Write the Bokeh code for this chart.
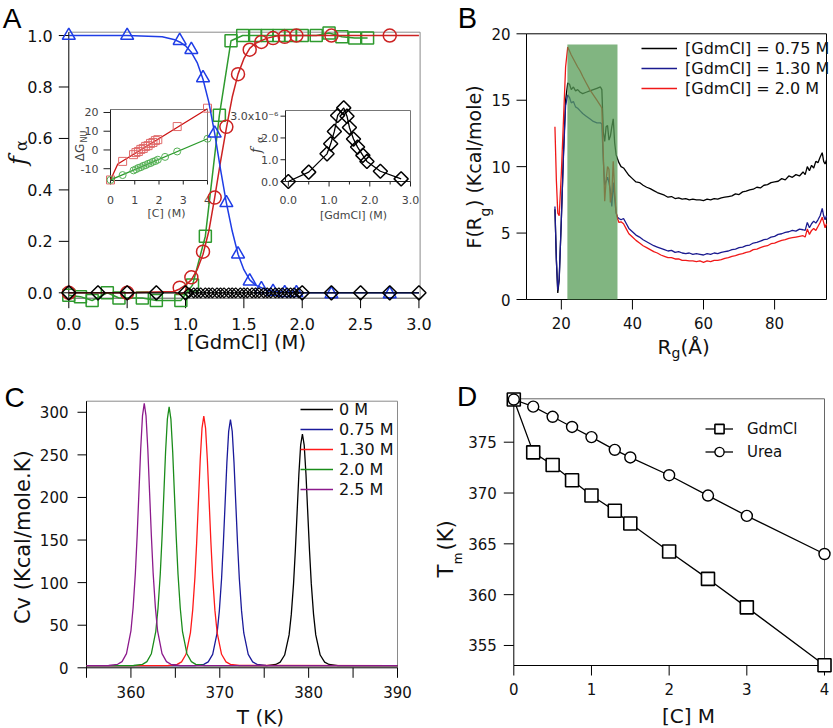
import math
from bokeh.plotting import figure
from bokeh.models import Range1d, LinearScale, Label, Legend, LegendItem
from bokeh.layouts import column, row
from bokeh.core.properties import value
from bokeh.embed import file_html
from bokeh.resources import INLINE

FONT = "DejaVu Sans"
SERIF = "DejaVu Serif"
LETTER = "Liberation Sans"

# ---------------- Panel A data ----------------
a_blue_x = [0, 0.5, 0.95, 1.05, 1.15, 1.25, 1.35, 1.45, 1.55, 1.65, 1.75, 1.85, 1.95, 2.25, 2.75]
a_blue_y = [1.0, 1.0, 0.98, 0.945, 0.835, 0.62, 0.35, 0.15, 0.045, 0.015, 0.005, 0.0, 0.0, -0.005, -0.005]
a_blue_fit_x = [0, 0.5, 0.8, 0.9, 0.95, 1.0, 1.05, 1.1, 1.15, 1.2, 1.25, 1.3, 1.35, 1.4, 1.45, 1.5, 1.55, 1.6, 1.7, 1.8, 2.0, 3.0]
a_blue_fit_y = [1.0, 1.0, 0.995, 0.985, 0.975, 0.96, 0.935, 0.895, 0.83, 0.74, 0.62, 0.48, 0.35, 0.24, 0.15, 0.09, 0.05, 0.03, 0.01, 0.003, 0.0, 0.0]

a_red_x = [0, 0.5, 0.95, 1.05, 1.15, 1.25, 1.35, 1.45, 1.55, 1.65, 1.75, 1.85, 1.95, 2.25, 2.75]
a_red_y = [0.0, 0.0, 0.02, 0.06, 0.16, 0.37, 0.645, 0.85, 0.945, 0.975, 0.99, 0.995, 1.0, 1.0, 1.0]
a_red_fit_x = [0, 0.5, 0.9, 0.95, 1.0, 1.05, 1.1, 1.15, 1.2, 1.25, 1.3, 1.35, 1.4, 1.45, 1.5, 1.55, 1.6, 1.7, 1.8, 2.0, 3.0]
a_red_fit_y = [0, 0, 0.005, 0.015, 0.03, 0.05, 0.09, 0.15, 0.24, 0.37, 0.51, 0.64, 0.76, 0.85, 0.91, 0.95, 0.97, 0.99, 1.0, 1.0, 1.0]

a_green_x = [0, 0.1, 0.2, 0.33, 0.43, 0.63, 0.75, 0.96, 1.06, 1.17, 1.29, 1.39, 1.49, 1.6, 1.7, 1.8, 1.9, 2.0, 2.12, 2.23, 2.34, 2.45, 2.56]
a_green_y = [-0.01, -0.015, -0.03, 0.0, -0.02, -0.02, -0.03, -0.03, 0.03, 0.22, 0.69, 0.98, 1.0, 1.0, 1.0, 1.0, 1.0, 1.0, 1.0, 1.01, 0.995, 0.99, 0.99]

a_dia_x = [0, 0.25, 0.5, 0.75, 1.0, 2.0, 2.25, 2.5, 2.75, 3.0]
a_dia_y = [0, 0, 0, 0, 0, 0, 0, 0, 0, 0]
a_dia_small_x = [1.03, 1.07, 1.10, 1.13, 1.17, 1.20, 1.23, 1.27, 1.30, 1.33, 1.37, 1.40, 1.43, 1.47, 1.50,
                 1.53, 1.57, 1.60, 1.63, 1.67, 1.70, 1.73, 1.77, 1.80, 1.83, 1.87, 1.90, 1.93, 1.97]
a_dia_small_y = [0] * len(a_dia_small_x)

a_xticks = [0, 0.5, 1.0, 1.5, 2.0, 2.5, 3.0]
a_xlabels = ["0.0", "0.5", "1.0", "1.5", "2.0", "2.5", "3.0"]
a_yticks = [0, 0.2, 0.4, 0.6, 0.8, 1.0]
a_ylabels = ["0.0", "0.2", "0.4", "0.6", "0.8", "1.0"]

# inset 1 (Delta G vs [C])
i1_sq_x = [0, 0.5, 0.95, 1.05, 1.15, 1.25, 1.35, 1.45, 1.55, 1.65, 1.75, 1.85, 1.95, 2.75, 4.0]
i1_sq_y = [-16, -6.1, -2.5, -1.4, -0.8, 0.3, 0.8, 1.9, 2.3, 3.5, 4.0, 5.0, 5.5, 12.5, 22.3]
i1_red_line_x = [0, 0.3, 4.0]
i1_red_line_y = [-16, -7.5, 22]
i1_ci_x = [0, 0.5, 0.95, 1.05, 1.15, 1.25, 1.35, 1.45, 1.55, 1.65, 1.75, 1.85, 1.95, 2.25, 2.75, 4.0]
i1_ci_y = [-16, -13.4, -10.9, -10.3, -9.6, -9.2, -8.5, -8.1, -7.4, -7.0, -6.3, -5.9, -5.2, -3.7, -0.8, 6.0]
i1_green_line_x = [0, 4.0]
i1_green_line_y = [-16, 6.0]
i1_xticks = [0, 1, 2, 3, 4]
i1_xlabels = ["0", "1", "2", "3", "4"]
i1_yticks = [20, 10, 0, -10]
i1_ylabels = ["20", "10", "0", "-10"]

# inset 2 (f_alpha x 1e-6)
i2_x = [0, 0.5, 0.95, 1.04, 1.13, 1.21, 1.36, 1.44, 1.5, 1.6, 1.7, 1.83, 1.93, 2.26, 2.77]
i2_y = [0.0, 0.43, 1.27, 1.73, 2.3, 3.03, 3.38, 3.0, 2.48, 1.95, 1.58, 1.2, 0.92, 0.47, 0.12]
i2_xticks = [0, 1, 2, 3]
i2_xlabels = ["0.0", "1.0", "2.0", "3.0"]
i2_xminor = [0.5, 1.5, 2.5]
i2_yticks = [0, 1, 2, 3]
i2_ylabels = ["0.0", "1.0", "2.0", "3.0x10\u207b\u2076"]

# ---------------- Panel B data ----------------
b_rg = [18.2, 18.6, 19.0, 19.4, 20.0, 20.6, 21.2, 21.8, 22.3, 22.8,
        23.4, 24.0, 24.6, 25.3, 26.0, 27.0, 28.0, 29.0, 30.0, 31.0,
        31.4, 31.8, 32.2, 32.6, 33.0, 33.4, 33.8, 34.2, 34.6, 35.0,
        35.4, 35.8, 36.2, 36.8, 37.5, 38.3, 39.0, 40.0, 41.0, 42.0,
        43.0, 44.0, 45.0, 46.0, 47.0, 48.0, 49.0, 50.0, 51.0, 52.0,
        53.0, 54.0, 55.0, 56.0, 57.0, 58.0, 59.0, 60.0, 61.0, 62.0,
        63.0, 64.0, 65.0, 66.0, 67.0, 68.0, 69.0, 70.0, 71.0, 72.0,
        73.0, 74.0, 75.0, 76.0, 77.0, 78.0, 79.0, 80.0, 81.0, 82.0,
        83.0, 84.0, 85.0, 86.0, 87.0, 88.0, 88.6, 89.2, 89.8, 90.4,
        91.0, 91.6, 92.2, 92.8, 93.4, 93.8, 94.2, 94.6]
b_f_075 = [6.8, 3.0, 0.5, 1.5, 6.0, 11.0, 15.0, 16.3, 16.2, 15.8,
           16.0, 15.7, 15.8, 15.6, 15.5, 15.6, 15.7, 15.8, 15.9, 16.0,
           15.8, 12.6, 11.9, 13.0, 13.1, 12.0, 12.3, 13.0, 13.6, 11.8,
           10.9, 10.6, 10.3, 10.0, 9.9, 9.6, 9.35, 9.1, 8.85, 8.8,
           8.6, 8.45, 8.35, 8.2, 8.05, 7.95, 7.85, 7.7, 7.75, 7.6,
           7.65, 7.55, 7.6, 7.5, 7.55, 7.5, 7.5, 7.45, 7.55, 7.5,
           7.6, 7.55, 7.65, 7.7, 7.75, 7.8, 7.95, 7.9, 8.1, 8.15,
           8.25, 8.3, 8.45, 8.4, 8.6, 8.65, 8.8, 8.85, 8.9, 9.1,
           9.0, 9.3, 9.2, 9.4, 9.3, 9.6, 9.4, 10.0, 9.7, 10.1,
           9.9, 10.4, 10.3, 10.7, 11.05, 10.4, 10.2, 10.5]
b_f_130 = [7.0, 3.0, 0.7, 1.6, 6.0, 10.8, 14.6, 15.4, 15.2, 14.8,
           14.9, 14.5, 14.4, 14.2, 14.0, 13.8, 13.6, 13.4, 13.3, 13.3,
           13.2, 10.5, 8.6, 8.9, 9.2, 8.8, 8.2, 7.0, 8.8, 7.6,
           6.5, 6.2, 6.1, 6.0, 6.1, 5.7, 5.35, 5.1, 4.85, 4.7,
           4.5, 4.35, 4.2, 4.05, 3.95, 3.85, 3.75, 3.65, 3.7, 3.55,
           3.6, 3.5, 3.45, 3.5, 3.4, 3.45, 3.4, 3.35, 3.45, 3.4,
           3.5, 3.45, 3.55, 3.6, 3.65, 3.75, 3.8, 3.9, 3.95, 4.05,
           4.1, 4.25, 4.3, 4.4, 4.5, 4.55, 4.7, 4.75, 4.9, 4.95,
           5.05, 5.1, 5.2, 5.15, 5.3, 5.25, 5.2, 5.8, 5.4, 5.7,
           5.9, 5.75, 6.0, 6.3, 6.85, 6.3, 6.0, 6.3]
b_f_200 = [13.0, 9.0, 6.5, 6.3, 9.5, 13.5, 17.5, 19.0, 18.7, 18.4,
           18.1, 17.8, 17.5, 17.2, 16.8, 16.3, 15.8, 15.4, 15.0, 14.6,
           14.4, 11.0, 7.4, 9.0, 10.0, 9.8, 7.3, 8.0, 10.4, 8.2,
           6.6, 6.1, 5.8, 5.85, 5.7, 5.3, 4.95, 4.7, 4.45, 4.25,
           4.05, 3.9, 3.75, 3.6, 3.5, 3.35, 3.25, 3.15, 3.15, 3.05,
           3.05, 2.95, 2.95, 2.9, 2.9, 2.85, 2.9, 2.8, 2.9, 2.85,
           2.95, 2.95, 3.0, 3.1, 3.15, 3.25, 3.3, 3.4, 3.45, 3.55,
           3.6, 3.75, 3.8, 3.9, 4.0, 4.05, 4.2, 4.25, 4.35, 4.45,
           4.5, 4.6, 4.65, 4.7, 4.75, 4.8, 4.7, 5.3, 4.9, 5.2,
           5.35, 5.2, 5.5, 5.8, 6.2, 5.8, 5.4, 5.7]
b_labels = ["[GdmCl] = 0.75 M", "[GdmCl] = 1.30 M", "[GdmCl] = 2.0 M"]
b_shade = (21.7, 35.8, 19.2)  # Rg start, Rg end, top of shaded band
b_xticks = [20, 40, 60, 80]
b_xlabels = ["20", "40", "60", "80"]
b_yticks = [0, 5, 10, 15, 20]
b_ylabels = ["0", "5", "10", "15", "20"]

# ---------------- Panel C data ----------------
c_T_0 = [355, 375.3, 376.3, 376.8, 377.3, 377.8, 378.05, 378.3, 378.5, 378.7, 378.9, 379.1, 379.3,
         379.5, 379.7, 379.9, 380.1, 380.3, 380.55, 380.8, 381.3, 381.8, 382.3, 383.3, 390]
c_cv_0 = [2.5, 2.6, 3.9, 6.7, 15.0, 38.6, 63.0, 98.5, 137.1, 182.0, 227.2, 261.4, 274.5,
          261.4, 227.2, 182.0, 137.1, 98.5, 63.0, 38.6, 15.0, 6.7, 3.9, 2.6, 2.5]
c_T_075 = [355, 367.2, 368.2, 368.7, 369.2, 369.7, 369.95, 370.2, 370.4, 370.6, 370.8, 371.0, 371.2,
           371.4, 371.6, 371.8, 372.0, 372.2, 372.45, 372.7, 373.2, 373.7, 374.2, 375.2, 390]
c_cv_075 = [2.5, 2.7, 4.0, 6.9, 15.8, 40.9, 66.8, 104.5, 145.6, 193.2, 241.2, 277.6, 291.5,
            277.6, 241.2, 193.2, 145.6, 104.5, 66.8, 40.9, 15.8, 6.9, 4.0, 2.7, 2.5]
c_T_130 = [355, 364.2, 365.2, 365.7, 366.2, 366.7, 366.95, 367.2, 367.4, 367.6, 367.8, 368.0, 368.2,
           368.4, 368.6, 368.8, 369.0, 369.2, 369.45, 369.7, 370.2, 370.7, 371.2, 372.2, 390]
c_cv_130 = [2.5, 2.7, 4.0, 7.0, 15.9, 41.4, 67.7, 105.9, 147.5, 195.9, 244.5, 281.4, 295.5,
            281.4, 244.5, 195.9, 147.5, 105.9, 67.7, 41.4, 15.9, 7.0, 4.0, 2.7, 2.5]
c_T_200 = [355, 360.3, 361.3, 361.8, 362.3, 362.8, 363.05, 363.3, 363.5, 363.7, 363.9, 364.1, 364.3,
           364.5, 364.7, 364.9, 365.1, 365.3, 365.55, 365.8, 366.3, 366.8, 367.3, 368.3, 390]
c_cv_200 = [2.5, 2.7, 4.0, 7.2, 16.5, 42.9, 70.2, 109.8, 153.0, 203.1, 253.6, 291.9, 306.5,
            291.9, 253.6, 203.1, 153.0, 109.8, 70.2, 42.9, 16.5, 7.2, 4.0, 2.7, 2.5]
c_T_250 = [355, 357.5, 358.5, 359.0, 359.5, 360.0, 360.25, 360.5, 360.7, 360.9, 361.1, 361.3, 361.5,
           361.7, 361.9, 362.1, 362.3, 362.5, 362.75, 363.0, 363.5, 364.0, 364.5, 365.5, 390]
c_cv_250 = [2.5, 2.7, 4.1, 7.2, 16.6, 43.4, 71.1, 111.2, 155.0, 205.8, 256.9, 295.7, 310.5,
            295.7, 256.9, 205.8, 155.0, 111.2, 71.1, 43.4, 16.6, 7.2, 4.1, 2.7, 2.5]
c_labels = ["0 M", "0.75 M", "1.30 M", "2.0 M", "2.5 M"]
c_xticks = [360, 370, 380, 390]
c_xlabels = ["360", "370", "380", "390"]
c_xminor = [355, 365, 375, 385]
c_yticks = [0, 50, 100, 150, 200, 250, 300]
c_ylabels = ["0", "50", "100", "150", "200", "250", "300"]

# ---------------- Panel D data ----------------
d_gdm_c = [0, 0.25, 0.5, 0.75, 1.0, 1.3, 1.5, 2.0, 2.5, 3.0, 4.0]
d_gdm_tm = [379.2, 374.0, 372.75, 371.25, 369.75, 368.25, 367.0, 364.25, 361.55, 358.75, 353.05]
d_urea_c = [0, 0.25, 0.5, 0.75, 1.0, 1.3, 1.5, 2.0, 2.5, 3.0, 4.0]
d_urea_tm = [379.2, 378.5, 377.5, 376.5, 375.5, 374.25, 373.5, 371.75, 369.75, 367.75, 364.0]
d_xticks = [0, 1, 2, 3, 4]
d_xlabels = ["0", "1", "2", "3", "4"]
d_yticks = [355, 360, 365, 370, 375]
d_ylabels = ["355", "360", "365", "370", "375"]

BLUE = "#1f3de6"
RED = "#cc2222"
GREEN = "#2e9a2e"
GRAYTXT = "#444444"
ROT = math.pi / 2


def canvas(x0, y0, w, h):
    """A figure whose frame is the whole canvas; its coordinates are page pixels (y negated)."""
    p = figure(width=w, height=h, x_range=Range1d(x0, x0 + w), y_range=Range1d(-(y0 + h), -y0),
               output_backend="svg", toolbar_location=None, tools="",
               x_axis_location=None, y_axis_location=None, min_border=0)
    p.outline_line_color = None
    p.grid.visible = False
    return p


def sub(p, xs, ys, xt, yt):
    """Data coordinates (xs, ys) mapped into the box xt (left,right) / yt (bottom,top) in page px."""
    return p.subplot(x_source=Range1d(*xs), y_source=Range1d(*ys),
                     x_scale=LinearScale(), y_scale=LinearScale(),
                     x_target=Range1d(*xt), y_target=Range1d(-yt[0], -yt[1]))


def axes(g, xr, yr, xticks, xlabels, yticks, ylabels, *, tick=10, xtick=None, size="15px",
         xoff=24, yoff=16, tr_color="#8a8a8a", b_color="black", l_color="black",
         color="#111111", xminor=None, minor_len=None):
    x0, x1 = xr
    y0, y1 = yr
    xt = tick if xtick is None else xtick
    g.line([x0, x1, x1], [y1, y1, y0], line_color=tr_color, line_width=1)
    g.line([x0, x1], [y0, y0], line_color=b_color, line_width=1)
    g.line([x0, x0], [y0, y1], line_color=l_color, line_width=1)
    g.ray(x=[x0] * len(yticks), y=yticks, length=tick, length_units="screen",
          angle=math.pi, line_color=l_color)
    g.ray(x=xticks, y=[y0] * len(xticks), length=xt, length_units="screen",
          angle=-math.pi / 2, line_color=l_color)
    if xminor:
        g.ray(x=xminor, y=[y0] * len(xminor), length=minor_len or xt, length_units="screen",
              angle=-math.pi / 2, line_color=l_color)
    g.text(x=[x0] * len(yticks), y=yticks, text=ylabels, x_offset=-yoff,
           text_align="right", text_baseline="middle", text_font=value(FONT),
           text_font_size=value(size), text_color=color)
    g.text(x=xticks, y=[y0] * len(xticks), text=xlabels, y_offset=xoff,
           text_align="center", text_baseline="middle", text_font=value(FONT),
           text_font_size=value(size), text_color=color)


def txt(p, px, py, text, size, angle=0.0, align="center", baseline="middle",
        font=FONT, style="normal", color="#111111"):
    p.add_layout(Label(x=px, y=-py, text=text, text_font=font, text_font_size=f"{size}px",
                       angle=angle, text_align=align, text_baseline=baseline,
                       text_font_style=style, text_color=color))


def legend(p, items, loc, gw, gh, standoff, size):
    p.add_layout(Legend(items=[LegendItem(label=l, renderers=r) for l, r in items],
                        location=loc, glyph_width=gw, glyph_height=gh, label_height=gh,
                        label_standoff=standoff, spacing=0, padding=0, margin=0,
                        border_line_color=None, background_fill_alpha=0,
                        label_text_font=FONT, label_text_font_size=size,
                        label_text_color="#111111"))


# ================= Panel A =================
pA = canvas(0, 0, 438, 362)
axr, ayr = (0, 3.01), (-0.021, 1.013)
gA = sub(pA, axr, ayr, (68.3, 419.6), (297.7, 31.7))
axes(gA, axr, ayr, a_xticks, a_xlabels, a_yticks, a_ylabels, size="16px", xoff=26, yoff=16,
     tr_color="#8a8a8a", b_color="#555555")

# inset 1
i1xr, i1yr = (0, 4), (-16.3, 21.6)
ins1 = sub(pA, i1xr, i1yr, (110, 207), (180, 109))
axes(ins1, i1xr, i1yr, i1_xticks, i1_xlabels, i1_yticks, i1_ylabels, tick=7, xtick=4,
     size="11px", xoff=19, yoff=12, tr_color="#777777", b_color="#222222", l_color="#222222",
     color=GRAYTXT)
ins1.line(i1_red_line_x, i1_red_line_y, line_color="#cc1111", line_width=1.3)
ins1.scatter(i1_sq_x, i1_sq_y, marker="square", size=8, fill_color=None,
             line_color="#e06a6a", line_width=1)
ins1.line(i1_green_line_x, i1_green_line_y, line_color="#2a9a2a", line_width=1.3)
ins1.scatter(i1_ci_x, i1_ci_y, marker="circle", size=7, fill_color=None,
             line_color="#55b055", line_width=1)

# inset 2
i2xr, i2yr = (-0.07, 3.0), (0, 3.26)
ins2 = sub(pA, i2xr, i2yr, (285, 410), (181, 110))
axes(ins2, i2xr, i2yr, i2_xticks, i2_xlabels, i2_yticks, i2_ylabels, tick=5, xtick=5,
     size="11px", xoff=18, yoff=7, tr_color="#777777", b_color="#222222", l_color="#222222",
     color=GRAYTXT, xminor=i2_xminor, minor_len=3)
ins2.line(i2_x, i2_y, line_color="black", line_width=1.3)
ins2.scatter(i2_x, i2_y, marker="square", angle=math.pi / 4, size=10, fill_color=None,
             line_color="black", line_width=1.5)

# main series of panel A
gA.line(a_green_x, a_green_y, line_color=GREEN, line_width=1.5)
gA.scatter(a_green_x, a_green_y, marker="square", size=12, fill_color=None,
           line_color=GREEN, line_width=1.5)
gA.line(a_red_fit_x, a_red_fit_y, line_color=RED, line_width=1.5)
gA.scatter(a_red_x, a_red_y, marker="circle", size=13, fill_color=None,
           line_color=RED, line_width=1.5)
gA.line(a_blue_fit_x, a_blue_fit_y, line_color=BLUE, line_width=1.5)
gA.scatter(a_blue_x, a_blue_y, marker="triangle", size=13, fill_color=None,
           line_color=BLUE, line_width=1.5)
dia_all = sorted(zip(a_dia_x + a_dia_small_x, a_dia_y + a_dia_small_y))
gA.line([d[0] for d in dia_all], [d[1] for d in dia_all], line_color="black", line_width=1.3)
gA.scatter(a_dia_small_x, a_dia_small_y, marker="square", angle=math.pi / 4, size=7,
           fill_color=None, line_color="black", line_width=1.2)
gA.scatter(a_dia_x, a_dia_y, marker="square", angle=math.pi / 4, size=10,
           fill_color=None, line_color="black", line_width=1.5)

txt(pA, 11.5, 18, "A", 28, font=LETTER, color="black")
txt(pA, 246, 342, "[GdmCl] (M)", 19.5)
txt(pA, 17, 160, "f", 24, angle=ROT, font=SERIF, style="italic")
txt(pA, 21, 145, "\u03b1", 16, angle=ROT, font=SERIF)
txt(pA, 79, 152, "\u0394G", 12, angle=ROT, color=GRAYTXT)
txt(pA, 84, 136, "NU", 8, angle=ROT, color=GRAYTXT)
txt(pA, 166, 213, "[C] (M)", 11, color=GRAYTXT)
txt(pA, 255, 150, "f", 14, angle=ROT, font=SERIF, style="italic", color=GRAYTXT)
txt(pA, 258.5, 139, "\u03b1", 10, angle=ROT, font=SERIF, color=GRAYTXT)
txt(pA, 353, 215, "[GdmCl] (M)", 11, color=GRAYTXT)

# ================= Panel B =================
pB = canvas(438, 0, 394, 362)
bxr, byr = (10.2, 94.6), (0, 20)
gB = sub(pB, bxr, byr, (526, 826), (299, 33.3))
axes(gB, bxr, byr, b_xticks, b_xlabels, b_yticks, b_ylabels, xoff=23, yoff=16,
     tr_color="black")
rb_k = gB.line(b_rg, b_f_075, line_color="#000000", line_width=1.3)
rb_b = gB.line(b_rg, b_f_130, line_color="#1b1b8f", line_width=1.3)
rb_r = gB.line(b_rg, b_f_200, line_color="#f01818", line_width=1.3)
gB.quad(left=b_shade[0], right=b_shade[1], bottom=0, top=b_shade[2],
        fill_color="#579c57", fill_alpha=0.75, line_color=None)
legend(pB, zip(b_labels, [[rb_k], [rb_b], [rb_r]]), (641 - 438, 264), 36, 20, 8, "16px")
txt(pB, 467, 17.5, "B", 29, font=LETTER, color="black")
txt(pB, 473, 248, "F(R", 19, angle=ROT, align="left")
txt(pB, 484, 211.5, "g", 14, angle=ROT)
txt(pB, 473, 206.5, ") (Kcal/mole)", 19, angle=ROT, align="left")
txt(pB, 657, 346.5, "R", 20, align="left")
txt(pB, 671, 352, "g", 14, align="left")
txt(pB, 680, 346.5, "(\u00c5)", 20, align="left")

# ================= Panel C =================
pC = canvas(0, 362, 435, 365)
cxr, cyr = (355, 390), (0, 313)
gC = sub(pC, cxr, cyr, (86, 397), (667.3, 400.7))
axes(gC, cxr, cyr, c_xticks, c_xlabels, c_yticks, c_ylabels, tick=9, xtick=10, xoff=24,
     yoff=18, tr_color="#8a8a8a", xminor=c_xminor)
rc0 = gC.line(c_T_0, c_cv_0, line_color="#000000", line_width=1.3)
rc1 = gC.line(c_T_075, c_cv_075, line_color="#1a1a9a", line_width=1.3)
rc2 = gC.line(c_T_130, c_cv_130, line_color="#ff1a1a", line_width=1.3)
rc3 = gC.line(c_T_200, c_cv_200, line_color="#1a8c1a", line_width=1.3)
rc4 = gC.line(c_T_250, c_cv_250, line_color="#8c1a8c", line_width=1.3)
legend(pC, zip(c_labels, [[rc0], [rc1], [rc2], [rc3], [rc4]]), (300, 228), 33, 20, 6, "16px")
txt(pC, 14, 396.5, "C", 28, font=LETTER, color="black")
txt(pC, 22, 536.7, "Cv (Kcal/mole.K)", 21, angle=ROT)
txt(pC, 260, 716, "T (K)", 20)

# ================= Panel D =================
pD = canvas(435, 362, 397, 365)
dxr, dyr = (0, 4), (353.03, 379.27)
gD = sub(pD, dxr, dyr, (513.3, 824), (665, 398.3))
axes(gD, dxr, dyr, d_xticks, d_xlabels, d_yticks, d_ylabels, xoff=23.5, yoff=17,
     tr_color="#666666")
rd_gl = gD.line(d_gdm_c, d_gdm_tm, line_color="black", line_width=1.3)
rd_gs = gD.scatter(d_gdm_c, d_gdm_tm, marker="square", size=13, fill_color="white",
                   line_color="black", line_width=1.6)
rd_ul = gD.line(d_urea_c, d_urea_tm, line_color="black", line_width=1.3)
rd_us = gD.scatter(d_urea_c, d_urea_tm, marker="circle", size=11, fill_color="white",
                   line_color="black", line_width=1.4)
legend(pD, [("GdmCl", [rd_gl, rd_gs]), ("Urea", [rd_ul, rd_us])], (270, 264), 28, 23, 14, "15px")
txt(pD, 466.5, 396, "D", 28, font=LETTER, color="black")
txt(pD, 445, 577, "T", 21, angle=ROT, align="left")
txt(pD, 457, 558, "m", 12, angle=ROT)
txt(pD, 445, 550, "(K)", 21, angle=ROT, align="left")
txt(pD, 688, 715, "[C] M", 20)

layout = column(row(pA, pB), row(pC, pD))
open("out.html", "w").write(file_html(layout, INLINE))
